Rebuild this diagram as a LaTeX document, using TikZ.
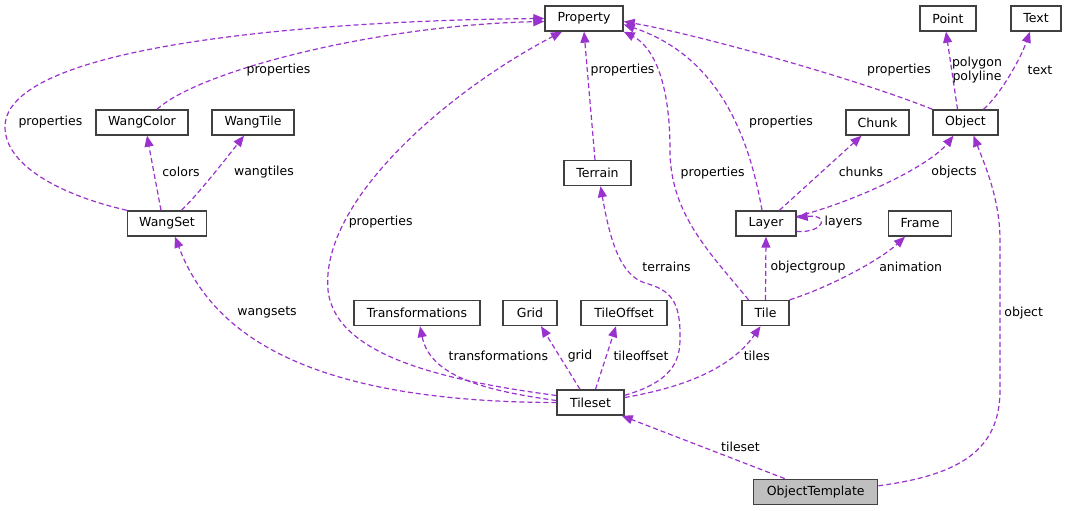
\documentclass[tikz,border=0pt]{standalone}
\usepackage{fontspec}
\setmainfont{DejaVu Sans}
\usetikzlibrary{arrows.meta}
\definecolor{edgec}{HTML}{9A32CD}
\definecolor{boxc}{HTML}{404040}
\definecolor{fillc}{HTML}{BFBFBF}
\begin{document}
\begin{tikzpicture}[x=1pt,y=-1pt,
  every node/.style={font=\fontsize{12.5}{14}\selectfont},
  cls/.style={draw=boxc, fill=white, line width=1.4pt, minimum height=25pt, inner sep=0pt, text=black},
  rel/.style={draw=edgec, line width=1.2pt, dash pattern=on 5pt off 3pt, -{Triangle[length=11pt,width=9pt]}},
  lbl/.style={inner sep=0pt, text=black, align=center}]
\useasboundingbox (0,0) rectangle (1066,511);
% classes
\node[cls, minimum width=78pt] (prop) at (584,18.5) {Property};
\node[cls, minimum width=56pt] (point) at (948,18.5) {Point};
\node[cls, minimum width=50pt] (text) at (1036,18.5) {Text};
\node[cls, minimum width=92pt] (wcolor) at (142,122.5) {WangColor};
\node[cls, minimum width=82pt] (wtile) at (253,122.5) {WangTile};
\node[cls, minimum width=63pt] (chunk) at (877.5,122.5) {Chunk};
\node[cls, minimum width=65pt] (object) at (965.5,122.5) {Object};
\node[cls, minimum width=67pt] (terrain) at (597.5,173) {Terrain};
\node[cls, minimum width=79pt] (wangset) at (167,223.5) {WangSet};
\node[cls, minimum width=60pt] (layer) at (766,223.5) {Layer};
\node[cls, minimum width=63pt] (frame) at (920,223.5) {Frame};
\node[cls, minimum width=126pt] (transf) at (417,313) {Transformations};
\node[cls, minimum width=54pt] (grid) at (530,313) {Grid};
\node[cls, minimum width=86pt] (tileoff) at (624,313) {TileOffset};
\node[cls, minimum width=47pt] (tile) at (765.5,313) {Tile};
\node[cls, minimum width=67pt] (tileset) at (590.5,402.5) {Tileset};
\node[cls, minimum width=124pt, fill=fillc] (otmpl) at (815.7,491.8) {ObjectTemplate};
% relations
\draw[rel] (wangset.north west) .. controls (60,195) and (5,165) .. (5,127) .. controls (5,40) and (350,20) .. (prop.west);
\draw[rel] ([xshift=15pt]wcolor.north) .. controls (200,70) and (380,25) .. ([yshift=-3pt]prop.west);
\draw[rel] ([yshift=7pt]tileset.west) .. controls (440,380) and (335,355) .. (328,290) .. controls (320,200) and (450,90) .. ([xshift=-22pt]prop.south);
\draw[rel] ([xshift=-2.5pt]terrain.north) -- (prop.south);
\draw[rel] ([xshift=-17pt]tile.north) .. controls (712,255) and (670,215) .. (670,150) .. controls (670,75) and (650,45) .. (prop.south east);
\draw[rel] ([xshift=-4pt]layer.north) .. controls (748,130) and (715,55) .. ([yshift=-6pt]prop.east);
\draw[rel] (object.north west) .. controls (860,80) and (700,35) .. ([yshift=-3pt]prop.east);
\draw[rel] ([xshift=-8pt]object.north) -- ([xshift=-2pt]point.south);
\draw[rel] ([xshift=18pt]object.north) .. controls (1000,95) and (1020,60) .. ([xshift=-6pt]text.south);
\draw[rel] ([xshift=-6pt]wangset.north) -- ([xshift=5pt]wcolor.south);
\draw[rel] ([xshift=14.5pt]wangset.north) .. controls (200,192) and (225,160) .. ([xshift=-9pt]wtile.south);
\draw[rel] ([xshift=13.4pt]layer.north) -- ([xshift=-16pt]chunk.south);
\draw[rel] ([yshift=7pt]layer.east) .. controls (860,200) and (930,165) .. ([xshift=-12pt]object.south);
\draw[rel] ([yshift=-8pt]layer.east) .. controls (825,233) and (830,214) .. ([yshift=6pt]layer.east);
\draw[rel] (tile.north) -- (layer.south);
\draw[rel] (tile.north east) .. controls (830,287) and (880,260) .. ([xshift=-15pt]frame.south);
\draw[rel] (tileset.west) .. controls (300,402) and (210,330) .. ([xshift=8pt]wangset.south);
\draw[rel] ([yshift=2pt]tileset.west) .. controls (480,390) and (430,375) .. ([xshift=3pt]transf.south);
\draw[rel] ([xshift=-10.5pt]tileset.north) -- ([xshift=11pt]grid.south);
\draw[rel] ([xshift=5pt]tileset.north) -- ([xshift=-8pt]tileoff.south);
\draw[rel] ([yshift=-6pt]tileset.north east) .. controls (660,385) and (680,370) .. (680,340) .. controls (681,300) and (670,290) .. (645,283) .. controls (620,275) and (610,240) .. ([xshift=3pt]terrain.south);
\draw[rel] ([yshift=5pt]tileset.east) .. controls (680,388) and (730,370) .. ([xshift=-5pt]tile.south);
\draw[rel] ([xshift=-31pt]otmpl.north) -- ([xshift=-3pt]tileset.south east);
\draw[rel] ([yshift=6pt]otmpl.east) .. controls (960,475) and (1000,450) .. (1000,390) -- (1000,240) .. controls (1000,200) and (985,165) .. ([xshift=8pt]object.south);
% labels
\node[lbl] (l1) at (50.4,121.7) {properties};
\node[lbl] (l2) at (278.5,70) {properties};
\node[lbl] (l3) at (380.7,222) {properties};
\node[lbl] (l4) at (622.6,70) {properties};
\node[lbl] (l5) at (712.6,172.7) {properties};
\node[lbl] (l6) at (781,121.7) {properties};
\node[lbl] (l7) at (899,70) {properties};
\node[lbl, font=\fontsize{12.5}{13.5}\selectfont] (l8) at (977,70) {polygon\\polyline};
\node[lbl] (l9) at (1040,70) {text};
\node[lbl] (l10) at (181,172) {colors};
\node[lbl] (l11) at (264,172) {wangtiles};
\node[lbl] (l12) at (861,172) {chunks};
\node[lbl] (l13) at (954,172) {objects};
\node[lbl] (l14) at (843.5,222.5) {layers};
\node[lbl] (l15) at (808,267) {objectgroup};
\node[lbl] (l16) at (910.7,267.3) {animation};
\node[lbl] (l17) at (267,312.7) {wangsets};
\node[lbl] (l18) at (498.3,356) {transformations};
\node[lbl] (l19) at (580,356) {grid};
\node[lbl] (l20) at (641,356) {tileoffset};
\node[lbl] (l21) at (756.8,356) {tiles};
\node[lbl] (l22) at (666.6,267.3) {terrains};
\node[lbl] (l23) at (740.5,446.7) {tileset};
\node[lbl] (l24) at (1023.7,312.7) {object};
\end{tikzpicture}
\end{document}
